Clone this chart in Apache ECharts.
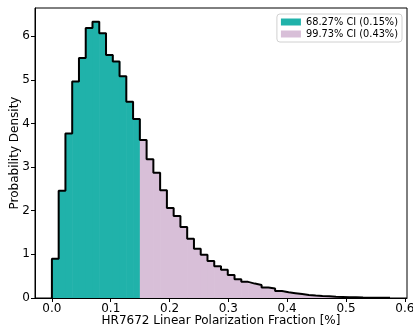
<!DOCTYPE html>
<html>
<head>
<meta charset="utf-8">
<script src="https://cdn.jsdelivr.net/npm/echarts@6/dist/echarts.min.js"></script>
<style>
html,body{margin:0;padding:0;background:#fff;}
#chart{width:413px;height:332px;}
</style>
</head>
<body>
<div id="chart"></div>
<script>
// Histogram: 50 equal bins between these limits
const binLow = 0.0;
const binHigh = 0.575;
const densities = [0.90, 2.46, 3.77, 4.96, 5.50, 6.19, 6.33, 6.07, 5.57, 5.42,
  5.08, 4.50, 4.10, 3.62, 3.18, 2.87, 2.47, 2.06, 1.88, 1.63,
  1.36, 1.13, 0.99, 0.85, 0.73, 0.65, 0.53, 0.43, 0.37, 0.33,
  0.30, 0.24, 0.22, 0.16, 0.13, 0.11, 0.09, 0.07, 0.055, 0.045,
  0.04, 0.03, 0.025, 0.02, 0.015, 0.01, 0.008, 0.006, 0.005, 0.004];
const ci68BinCount = 13; // bins inside the 68.27% CI
const legendNames = ['68.27% CI (0.15%)', '99.73% CI (0.43%)'];
const xTicks = [0.0, 0.1, 0.2, 0.3, 0.4, 0.5, 0.6];
const yTicks = [0, 1, 2, 3, 4, 5, 6];
const xLabel = 'HR7672 Linear Polarization Fraction [%]';
const yLabel = 'Probability Density';

const nBins = densities.length;
const w = (binHigh - binLow) / nBins;
const bins = densities.map((h, i) => [binLow + i * w, binLow + (i + 1) * w, h]);
const teal = bins.slice(0, ci68BinCount);
const pink = bins.slice(ci68BinCount);
const outline = [[binLow, 0]];
bins.forEach(b => { outline.push([b[0], b[2]]); outline.push([b[1], b[2]]); });
outline.push([binHigh, 0]);

const xPad = (binHigh - binLow) * 0.05;
const yMax = Math.max.apply(null, densities) * 1.05;

function renderBin(params, api) {
  const p0 = api.coord([api.value(0), api.value(2)]);
  const p1 = api.coord([api.value(1), 0]);
  return {
    type: 'rect',
    shape: { x: p0[0], y: p0[1], width: p1[0] - p0[0] + 0.6, height: p1[1] - p0[1] },
    style: { fill: api.visual('color') }
  };
}

const font = 'DejaVu Sans';
const chart = echarts.init(document.getElementById('chart'), null, { renderer: 'canvas' });
chart.setOption({
  animation: false,
  textStyle: { fontFamily: font },
  grid: { left: 35, right: 6, top: 8, bottom: 34, containLabel: false, outerBoundsMode: 'none', show: true, borderColor: '#000', borderWidth: 1, backgroundColor: 'transparent' },
  legend: {
    data: legendNames.map(n => ({ name: n, icon: 'rect' })),
    orient: 'vertical',
    right: 11, top: 14,
    itemWidth: 20, itemHeight: 7, itemGap: 2,
    padding: [3, 4, 3, 4],
    borderColor: '#d0d0d0', borderWidth: 1, borderRadius: 3,
    backgroundColor: '#fff',
    textStyle: { fontFamily: font, fontSize: 9.8, color: '#000' }
  },
  xAxis: {
    type: 'value',
    min: binLow - xPad, max: binHigh + xPad,
    name: xLabel, nameLocation: 'middle', nameGap: 17, nameMoveOverlap: false,
    nameTextStyle: { fontFamily: font, fontSize: 12, color: '#000' },
    axisLine: { show: true, onZero: false, lineStyle: { color: '#000', width: 1 } },
    axisTick: { show: true, length: 4, lineStyle: { color: '#000' }, customValues: xTicks },
    axisLabel: { fontFamily: font, fontSize: 12, color: '#000', margin: 5, customValues: xTicks, formatter: v => v.toFixed(1) },
    splitLine: { show: false }
  },
  yAxis: {
    type: 'value',
    min: 0, max: yMax,
    name: yLabel, nameLocation: 'middle', nameGap: 14, nameMoveOverlap: false,
    nameTextStyle: { fontFamily: font, fontSize: 12, color: '#000' },
    axisLine: { show: true, onZero: false, lineStyle: { color: '#000', width: 1 } },
    axisTick: { show: true, length: 4, lineStyle: { color: '#000' }, customValues: yTicks },
    axisLabel: { fontFamily: font, fontSize: 12, color: '#000', margin: 5, customValues: yTicks },
    splitLine: { show: false }
  },
  series: [
    { name: legendNames[0], type: 'custom', renderItem: renderBin, data: teal, encode: { x: [0, 1], y: 2 }, itemStyle: { color: '#20b2aa' }, silent: true },
    { name: legendNames[1], type: 'custom', renderItem: renderBin, data: pink, encode: { x: [0, 1], y: 2 }, itemStyle: { color: '#d8bfd8' }, silent: true },
    { name: 'outline', type: 'line', data: outline, symbol: 'none', lineStyle: { color: '#000', width: 2 }, z: 5, silent: true }
  ]
});
</script>
</body>
</html>
